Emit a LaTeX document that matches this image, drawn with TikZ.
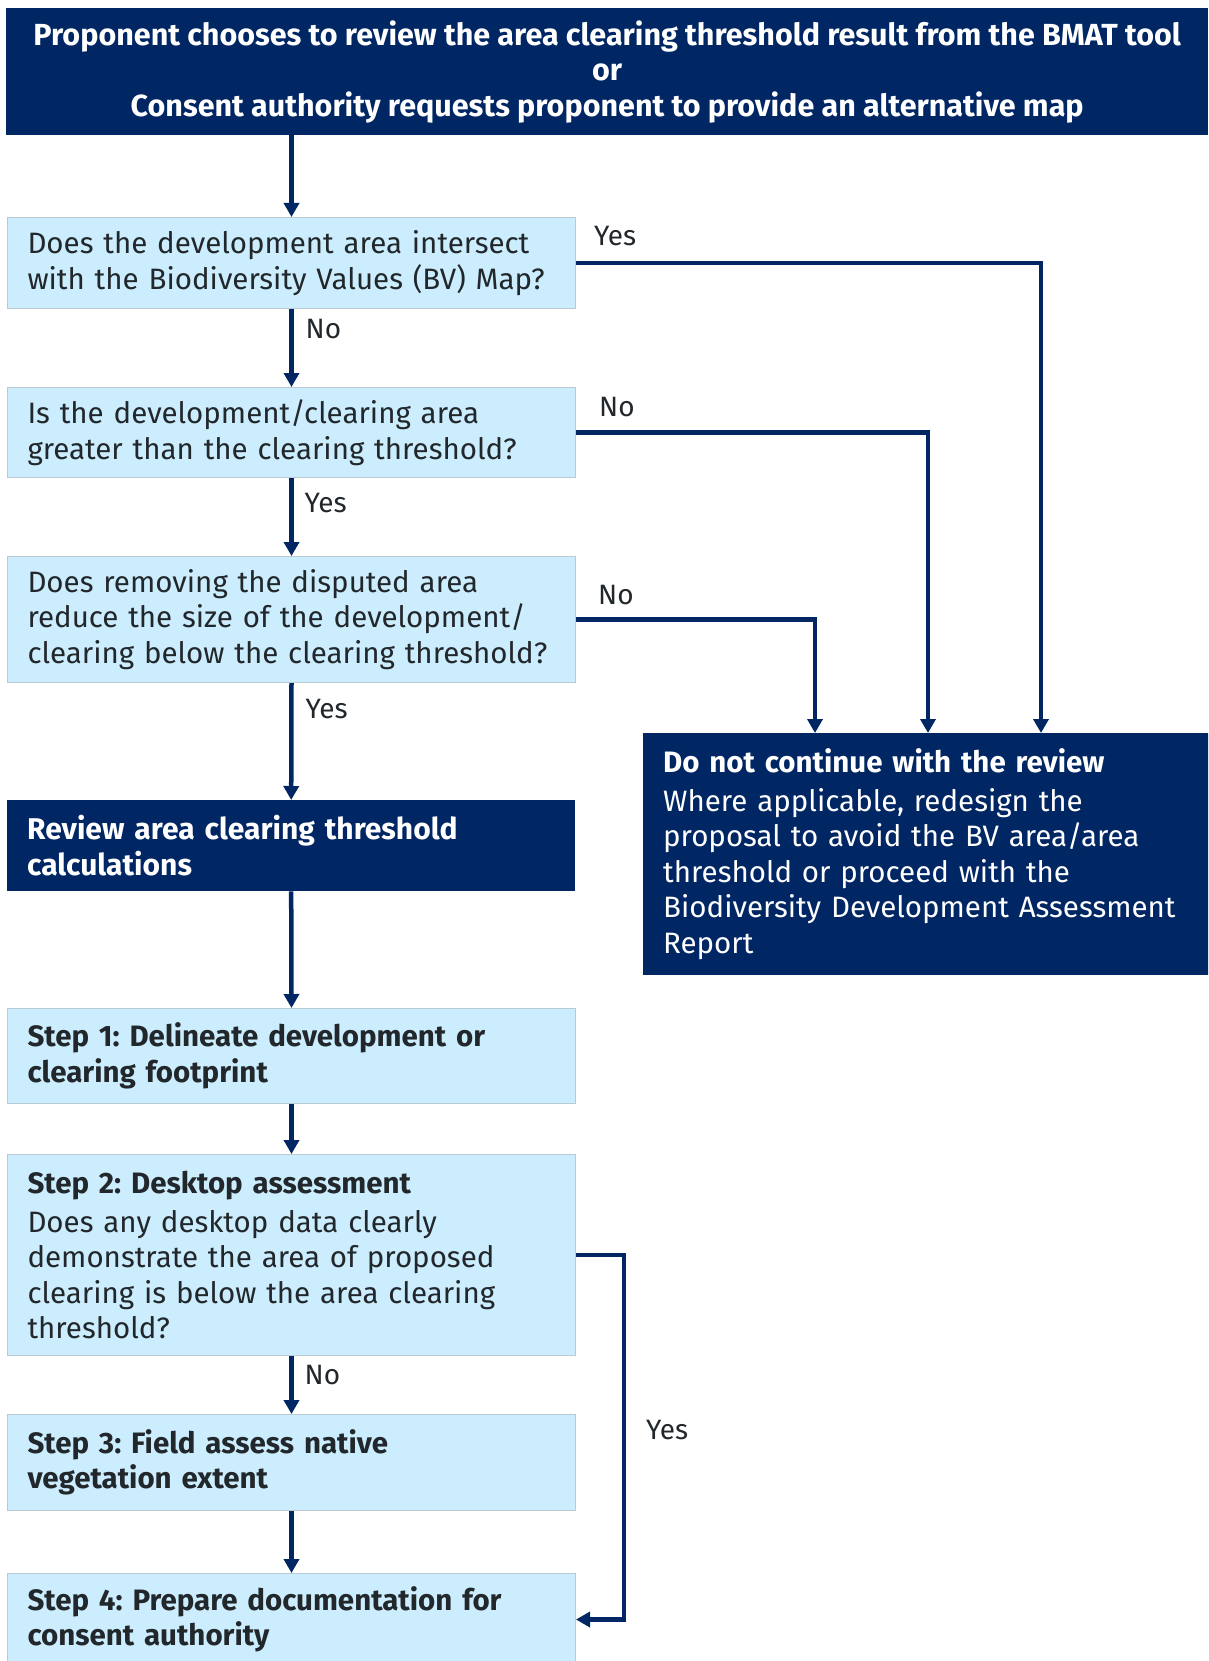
\documentclass[tikz,border=0pt]{standalone}
\usepackage{fontspec}
\setmainfont{Fira Sans}
\usetikzlibrary{arrows.meta,calc}
\definecolor{navy}{HTML}{002664}
\definecolor{paleblue}{HTML}{CBEDFD}
\definecolor{boxline}{HTML}{B9CAD4}
\definecolor{ink}{HTML}{22272B}
\tikzset{
  darkbox/.style={anchor=north west, fill=navy, text=white, inner xsep=20pt, inner ysep=0pt, align=left, font=\fontsize{30}{35.5}\selectfont\bfseries},
  lightbox/.style={anchor=north west, fill=paleblue, draw=boxline, line width=1pt, text=ink, text width=528pt, inner xsep=20pt, inner ysep=0pt, align=left, font=\fontsize{29.5}{35.5}\selectfont},
  flow/.style={navy, line width=4.5pt, -{Triangle[width=15pt,length=14pt]}},
  answer/.style={text=ink, inner sep=0pt, anchor=west, font=\fontsize{28}{30}\selectfont}
}
\frenchspacing
\begin{document}
\begin{tikzpicture}[x=1pt,y=-1pt]
		%%%%% START %%%%%
		\useasboundingbox (0,0) rectangle (1208,1661);
		\clip (0,0) rectangle (1208,1661);
		
		\node[darkbox, align=center, minimum width=1202pt, minimum height=127pt, font=\fontsize{30.5}{35.5}\selectfont\bfseries] (top) at (6,8)
			{Proponent chooses to review the area clearing threshold result from the BMAT tool\\or\\Consent authority requests proponent to provide an alternative map};
		
		\node[lightbox, minimum height=91pt] (q1) at (7,217)
			{Does the development area intersect\\with the Biodiversity Values (BV) Map?};
		\node[lightbox, minimum height=90pt] (q2) at (7,387)
			{Is the development/clearing area\\greater than the clearing threshold?};
		\node[lightbox, minimum height=126pt] (q3) at (7,556)
			{Does removing the disputed area\\reduce the size of the development/\\clearing below the clearing threshold?};
		\node[darkbox, text width=528pt, minimum height=91pt] (review) at (7,800)
			{Review area clearing threshold\\calculations};
		
		\node[darkbox, text width=530pt, minimum height=242pt, font=\fontsize{29.5}{35.5}\selectfont] (dnc) at (643,733)
			{\textbf{Do not continue with the review}\\[3pt]Where applicable, redesign the\\proposal to avoid the BV area/area\\threshold or proceed with the\\Biodiversity Development Assessment\\Report};
		
		\node[lightbox, minimum height=95pt] (s1) at (7,1008)
			{\textbf{Step 1: Delineate development or}\\\textbf{clearing footprint}};
		\node[lightbox, minimum height=201pt] (s2) at (7,1154)
			{\textbf{Step 2: Desktop assessment}\\[3pt]Does any desktop data clearly\\demonstrate the area of proposed\\clearing is below the area clearing\\threshold?};
		\node[lightbox, minimum height=96pt] (s3) at (7,1414)
			{\textbf{Step 3: Field assess native}\\\textbf{vegetation extent}};
		\node[lightbox, minimum height=92pt] (s4) at (7,1573)
			{\textbf{Step 4: Prepare documentation for}\\\textbf{consent authority}};
		
		% down the left column
		\draw[flow] (top.south -| q1.north) -- (q1.north);
		\draw[flow] (q1.south) -- (q2.north);
		\draw[flow] (q2.south) -- (q3.north);
		\draw[flow] (q3.south) -- (review.north);
		\draw[flow] (review.south) -- (s1.north);
		\draw[flow] (s1.south) -- (s2.north);
		\draw[flow] (s2.south) -- (s3.north);
		\draw[flow] (s3.south) -- (s4.north);
		
		% out to the right
		\draw[flow] (q1.east) -| ([xshift=398pt]dnc.north west);
		\draw[flow] (q2.east) -| ([xshift=285pt]dnc.north west);
		\draw[flow] (q3.east) -| ([xshift=172pt]dnc.north west);
		\draw[flow] (s2.east) -- ++(48,0) |- (s4.east);
		
		\node[answer] (yes1) at ([xshift=18pt,yshift=27pt]q1.east) {Yes};
		\node[answer] (no1) at ([xshift=14pt,yshift=-20pt]q1.south) {No};
		\node[answer] (no2) at ([xshift=23pt,yshift=25pt]q2.east) {No};
		\node[answer] (yes2) at ([xshift=13pt,yshift=-25pt]q2.south) {Yes};
		\node[answer] (no3) at ([xshift=22pt,yshift=24pt]q3.east) {No};
		\node[answer] (yes3) at ([xshift=14pt,yshift=-26pt]q3.south) {Yes};
		\node[answer] (no4) at ([xshift=13pt,yshift=-19pt]s2.south) {No};
		\node[answer] (yes4) at ([xshift=70pt,yshift=-175pt]s2.east) {Yes};
		%%%%% END %%%%%
\end{tikzpicture}
\end{document}
